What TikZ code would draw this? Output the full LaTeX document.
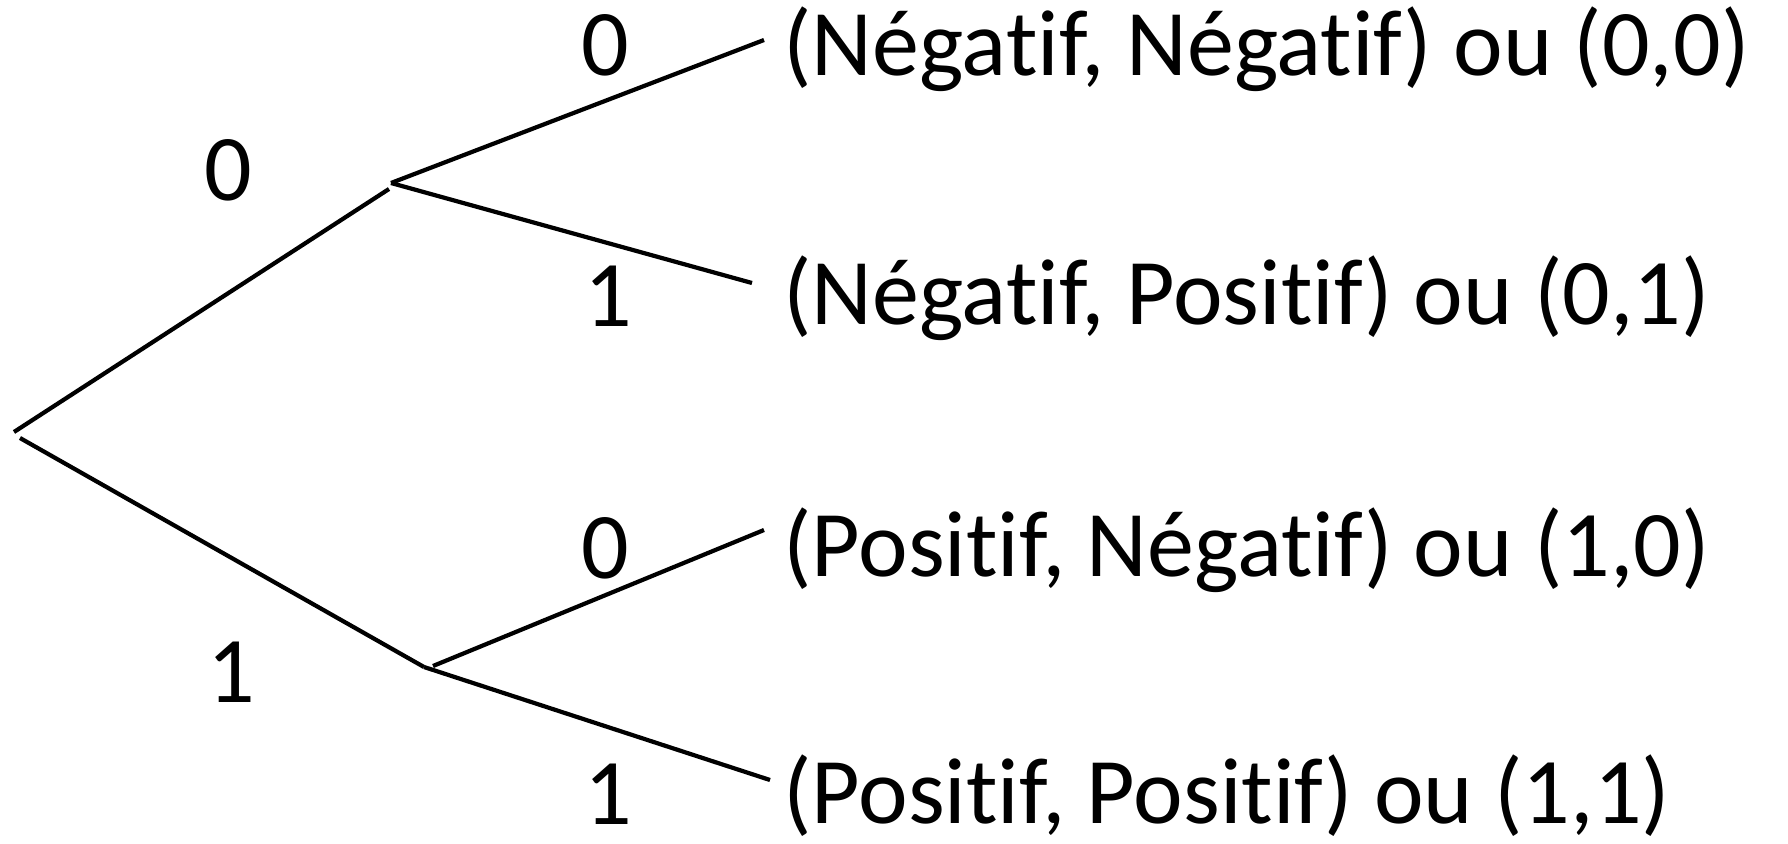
\documentclass[tikz,border=0pt]{standalone}
\usepackage{fontspec}
\setmainfont[Ligatures=NoCommon]{Carlito}
\begin{document}
\begin{tikzpicture}[x=0.02cm,y=-0.02cm,
  edge/.style={line width=2.4pt,line cap=butt},
  lab/.style={font=\fontsize{53.5}{64}\selectfont,inner sep=0pt},
  leaf/.style={lab,anchor=west}]
\useasboundingbox (0,0) rectangle (1788,844);
% coordinates of the tree
\coordinate (r1) at (14,432);
\coordinate (r2) at (20,438);
\coordinate (a) at (389,189);
\coordinate (a2) at (391,183);
\coordinate (b) at (424,667);
\coordinate (b2) at (433,666);
\coordinate (aa) at (764,40);
\coordinate (ab) at (752,283);
\coordinate (ba) at (764,530);
\coordinate (bb) at (770,780);
% connectors
\draw[edge] (r1) -- (a);
\draw[edge] (r2) -- (b);
\draw[edge] (a2) -- (aa);
\draw[edge] (a2) -- (ab);
\draw[edge] (b2) -- (ba);
\draw[edge] (b) -- (bb);
% branch labels
\node[lab] (l0) at (228,170) {0};
\node[lab] (l1) at (231,672) {1};
\node[lab] (l00) at (605,45) {0};
\node[lab] (l01) at (608,296) {1};
\node[lab] (l10) at (605,548) {0};
\node[lab] (l11) at (608,794) {1};
% leaves
\node[leaf] (n00) at (783,49) {(Négatif, Négatif) ou (0,0)};
\node[leaf] (n01) at (783,298) {(Négatif, Positif) ou (0,1)};
\node[leaf] (n10) at (783,550) {(Positif, Négatif) ou (1,0)};
\node[leaf] (n11) at (783,796) {(Positif, Positif) ou (1,1)};
\end{tikzpicture}
\end{document}
